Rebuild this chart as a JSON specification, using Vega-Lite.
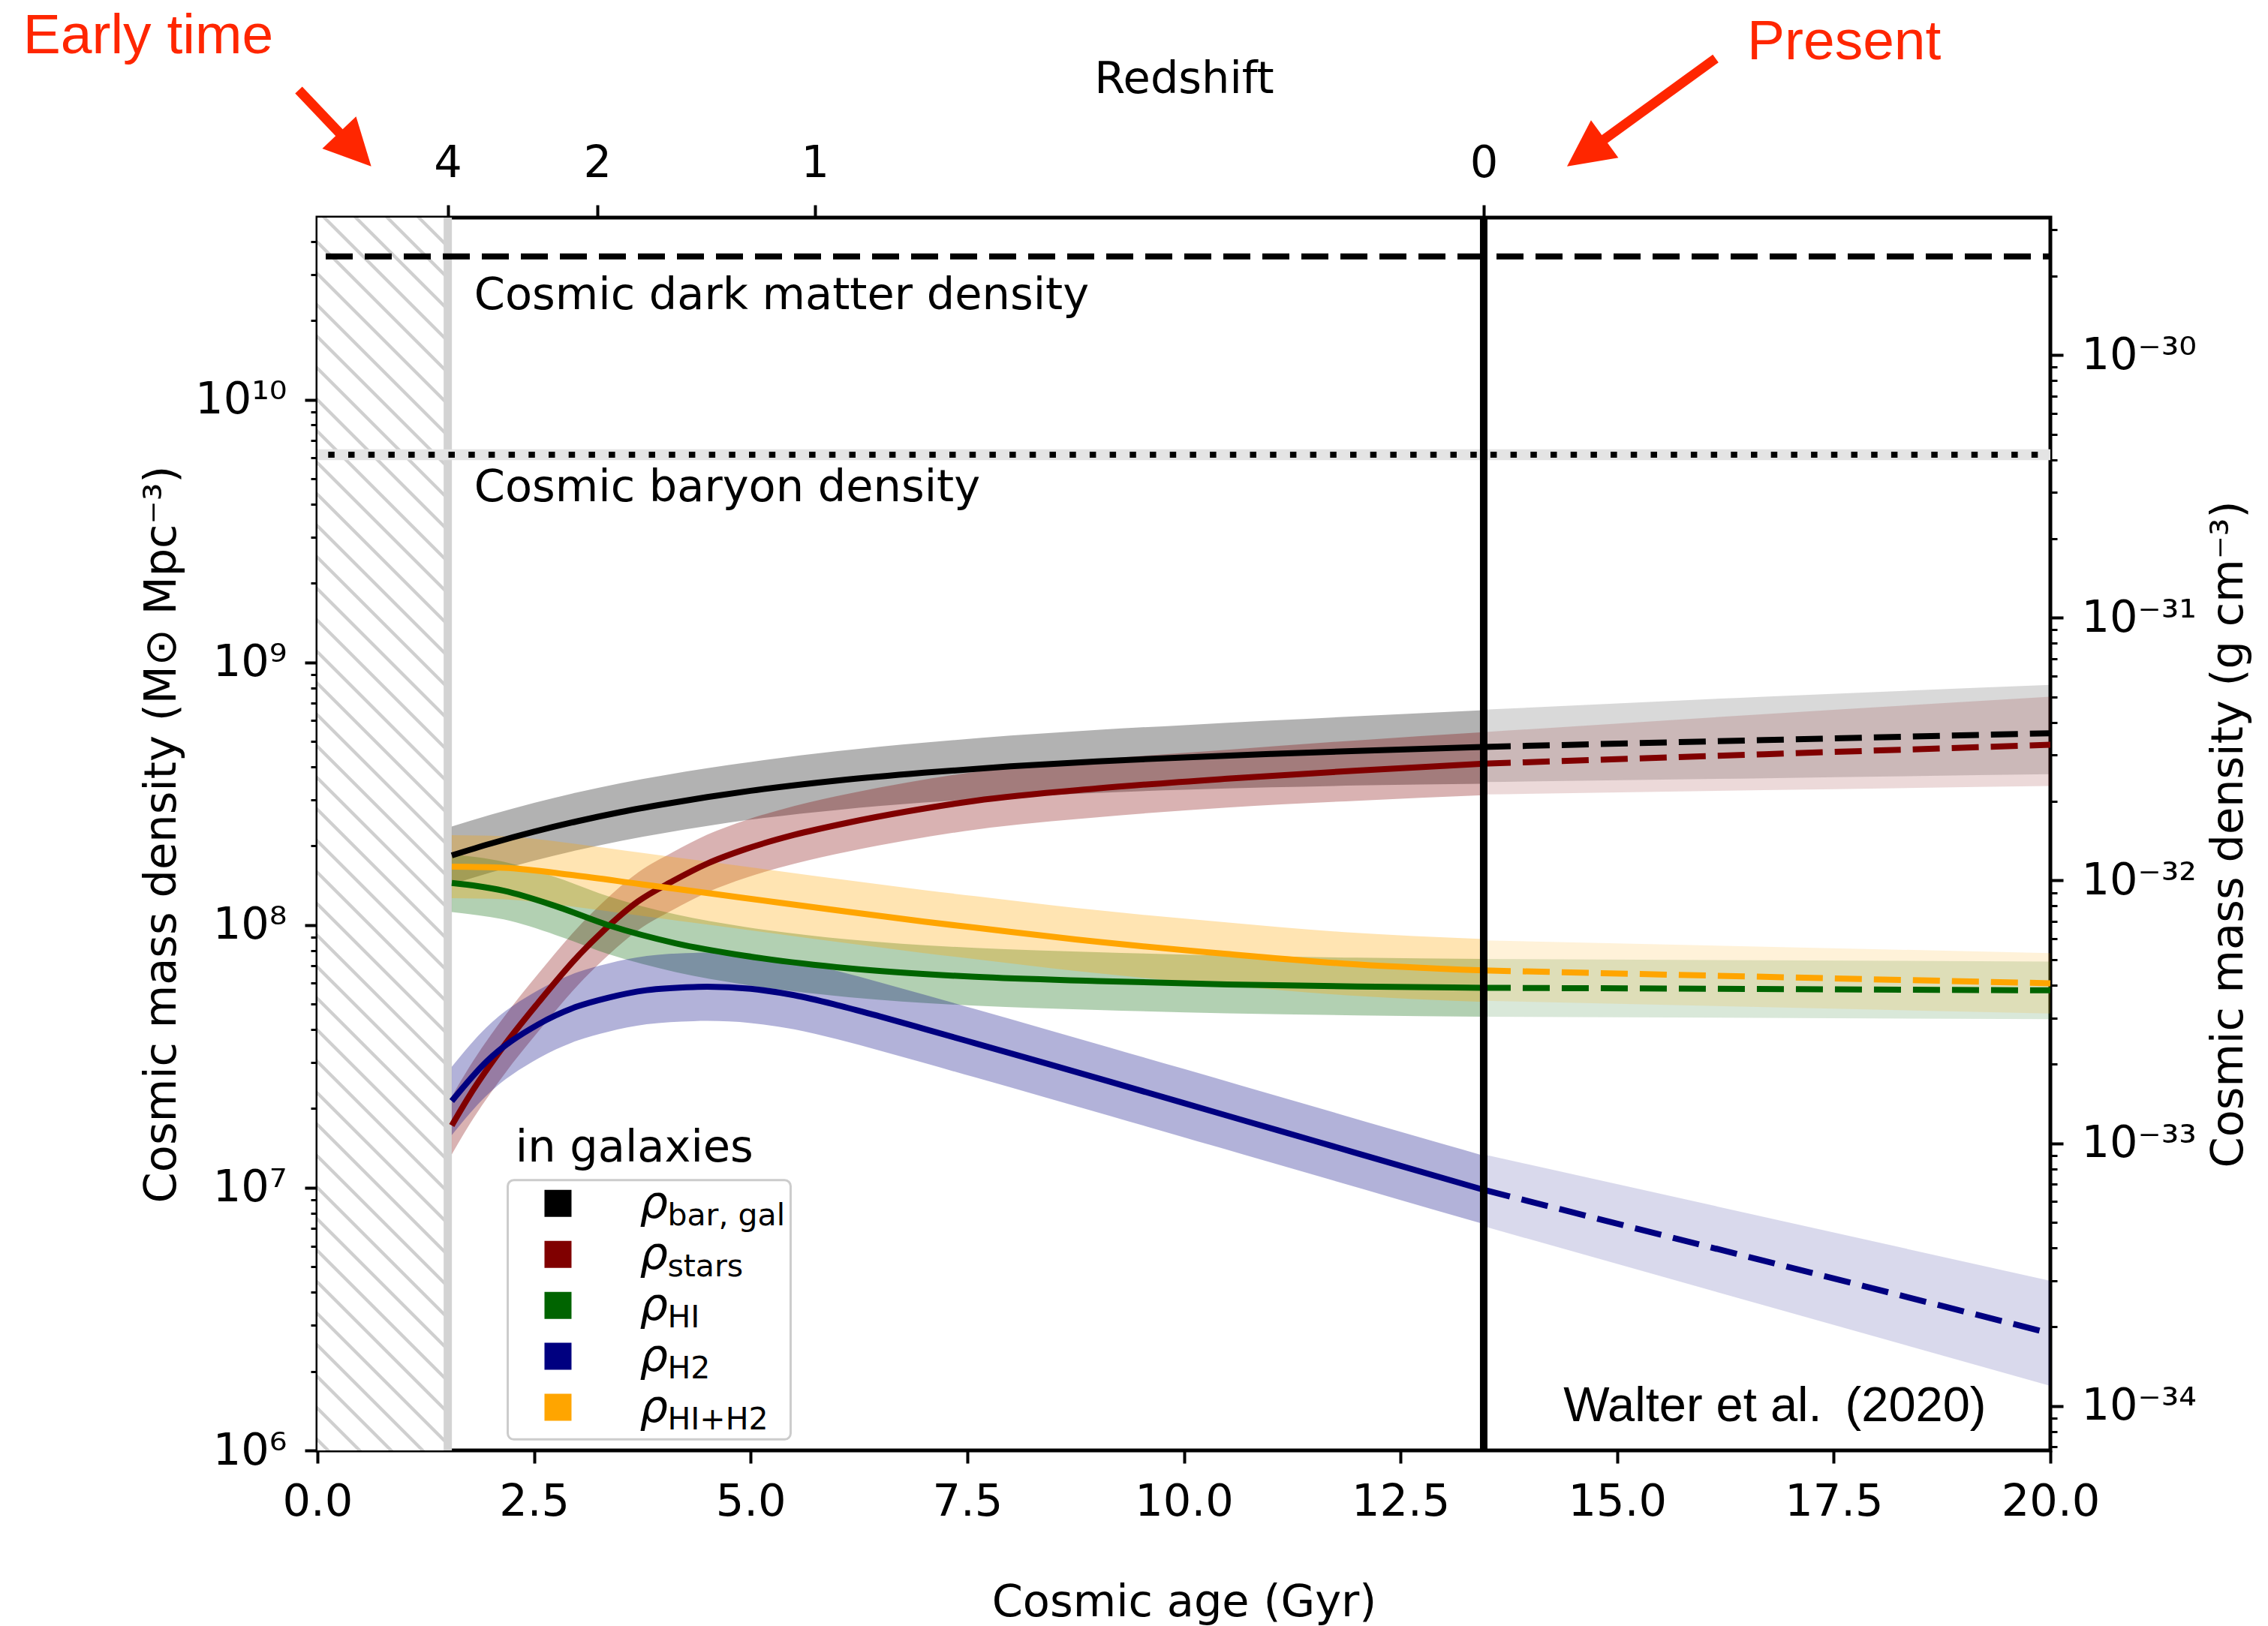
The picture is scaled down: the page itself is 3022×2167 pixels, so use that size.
{
  "$schema": "https://vega.github.io/schema/vega-lite/v6.json",
  "width": 2309,
  "height": 1643,
  "autosize": {"type": "none"},
  "padding": {"left": 423, "top": 290, "right": 290, "bottom": 234},
  "background": "white",
  "config": {
    "view": {"stroke": "black", "strokeWidth": 5},
    "font": "DejaVu Sans",
    "axis": {
      "grid": false,
      "domain": false,
      "labelFont": "DejaVu Sans",
      "labelFontSize": 59,
      "labelColor": "black",
      "titleFont": "DejaVu Sans",
      "titleFontSize": 59,
      "titleFontWeight": "normal",
      "titleColor": "black",
      "tickColor": "black",
      "tickWidth": 4,
      "tickSize": 17,
      "labelOverlap": false,
      "labelFlush": false,
      "labelBound": false
    }
  },
  "datasets": {
    "density": [
      {"series": "bar, gal", "phase": "fit", "t": 1.55, "rho": 1.841e8, "lo": 1.429e8, "hi": 2.371e8},
      {"series": "bar, gal", "phase": "fit", "t": 2.0, "rho": 2.042e8, "lo": 1.585e8, "hi": 2.630e8},
      {"series": "bar, gal", "phase": "fit", "t": 2.5, "rho": 2.265e8, "lo": 1.759e8, "hi": 2.917e8},
      {"series": "bar, gal", "phase": "fit", "t": 3.0, "rho": 2.483e8, "lo": 1.928e8, "hi": 3.198e8},
      {"series": "bar, gal", "phase": "fit", "t": 3.5, "rho": 2.692e8, "lo": 2.090e8, "hi": 3.467e8},
      {"series": "bar, gal", "phase": "fit", "t": 4.0, "rho": 2.884e8, "lo": 2.239e8, "hi": 3.715e8},
      {"series": "bar, gal", "phase": "fit", "t": 4.5, "rho": 3.069e8, "lo": 2.383e8, "hi": 3.953e8},
      {"series": "bar, gal", "phase": "fit", "t": 5.0, "rho": 3.243e8, "lo": 2.518e8, "hi": 4.177e8},
      {"series": "bar, gal", "phase": "fit", "t": 6.0, "rho": 3.548e8, "lo": 2.742e8, "hi": 4.591e8},
      {"series": "bar, gal", "phase": "fit", "t": 7.0, "rho": 3.802e8, "lo": 2.925e8, "hi": 4.943e8},
      {"series": "bar, gal", "phase": "fit", "t": 8.0, "rho": 4.018e8, "lo": 3.070e8, "hi": 5.260e8},
      {"series": "bar, gal", "phase": "fit", "t": 9.0, "rho": 4.198e8, "lo": 3.185e8, "hi": 5.533e8},
      {"series": "bar, gal", "phase": "fit", "t": 10.0, "rho": 4.345e8, "lo": 3.274e8, "hi": 5.766e8},
      {"series": "bar, gal", "phase": "fit", "t": 11.0, "rho": 4.477e8, "lo": 3.341e8, "hi": 5.999e8},
      {"series": "bar, gal", "phase": "fit", "t": 12.0, "rho": 4.603e8, "lo": 3.397e8, "hi": 6.237e8},
      {"series": "bar, gal", "phase": "fit", "t": 13.46, "rho": 4.764e8, "lo": 3.452e8, "hi": 6.574e8},
      {"series": "bar, gal", "phase": "extrapolation", "t": 13.46, "rho": 4.764e8, "lo": 3.5e8, "hi": 6.6e8},
      {"series": "bar, gal", "phase": "extrapolation", "t": 16.7, "rho": 5.058e8, "lo": 3.62e8, "hi": 7.4e8},
      {"series": "bar, gal", "phase": "extrapolation", "t": 20.0, "rho": 5.37e8, "lo": 3.75e8, "hi": 8.2e8},

      {"series": "stars", "phase": "fit", "t": 1.55, "rho": 1.726e7, "lo": 1.340e7, "hi": 2.223e7},
      {"series": "stars", "phase": "fit", "t": 1.75, "rho": 2.228e7, "lo": 1.730e7, "hi": 2.870e7},
      {"series": "stars", "phase": "fit", "t": 2.15, "rho": 3.459e7, "lo": 2.686e7, "hi": 4.455e7},
      {"series": "stars", "phase": "fit", "t": 2.55, "rho": 5.070e7, "lo": 3.936e7, "hi": 6.530e7},
      {"series": "stars", "phase": "fit", "t": 3.0, "rho": 7.568e7, "lo": 5.876e7, "hi": 9.748e7},
      {"series": "stars", "phase": "fit", "t": 3.3, "rho": 9.506e7, "lo": 7.380e7, "hi": 1.224e8},
      {"series": "stars", "phase": "fit", "t": 3.7, "rho": 1.230e8, "lo": 9.550e7, "hi": 1.584e8},
      {"series": "stars", "phase": "fit", "t": 4.1, "rho": 1.469e8, "lo": 1.140e8, "hi": 1.892e8},
      {"series": "stars", "phase": "fit", "t": 4.5, "rho": 1.714e8, "lo": 1.331e8, "hi": 2.208e8},
      {"series": "stars", "phase": "fit", "t": 4.94, "rho": 1.945e8, "lo": 1.510e8, "hi": 2.505e8},
      {"series": "stars", "phase": "fit", "t": 5.5, "rho": 2.203e8, "lo": 1.710e8, "hi": 2.837e8},
      {"series": "stars", "phase": "fit", "t": 6.13, "rho": 2.455e8, "lo": 1.906e8, "hi": 3.162e8},
      {"series": "stars", "phase": "fit", "t": 6.8, "rho": 2.704e8, "lo": 2.099e8, "hi": 3.483e8},
      {"series": "stars", "phase": "fit", "t": 7.59, "rho": 2.972e8, "lo": 2.307e8, "hi": 3.828e8},
      {"series": "stars", "phase": "fit", "t": 9.0, "rho": 3.311e8, "lo": 2.571e8, "hi": 4.265e8},
      {"series": "stars", "phase": "fit", "t": 10.5, "rho": 3.606e8, "lo": 2.800e8, "hi": 4.645e8},
      {"series": "stars", "phase": "fit", "t": 12.0, "rho": 3.873e8, "lo": 2.972e8, "hi": 5.047e8},
      {"series": "stars", "phase": "fit", "t": 13.46, "rho": 4.111e8, "lo": 3.119e8, "hi": 5.418e8},
      {"series": "stars", "phase": "extrapolation", "t": 13.46, "rho": 4.111e8, "lo": 3.14e8, "hi": 5.42e8},
      {"series": "stars", "phase": "extrapolation", "t": 16.7, "rho": 4.467e8, "lo": 3.26e8, "hi": 6.35e8},
      {"series": "stars", "phase": "extrapolation", "t": 20.0, "rho": 4.853e8, "lo": 3.38e8, "hi": 7.4e8},

      {"series": "HI", "phase": "fit", "t": 1.55, "rho": 1.445e8, "lo": 1.12e8, "hi": 1.86e8},
      {"series": "HI", "phase": "fit", "t": 1.85, "rho": 1.406e8, "lo": 1.09e8, "hi": 1.81e8},
      {"series": "HI", "phase": "fit", "t": 2.15, "rho": 1.35e8, "lo": 1.05e8, "hi": 1.74e8},
      {"series": "HI", "phase": "fit", "t": 2.75, "rho": 1.18e8, "lo": 9.16e7, "hi": 1.52e8},
      {"series": "HI", "phase": "fit", "t": 3.35, "rho": 1.0e8, "lo": 7.76e7, "hi": 1.288e8},
      {"series": "HI", "phase": "fit", "t": 4.14, "rho": 8.51e7, "lo": 6.61e7, "hi": 1.096e8},
      {"series": "HI", "phase": "fit", "t": 4.93, "rho": 7.64e7, "lo": 5.93e7, "hi": 9.84e7},
      {"series": "HI", "phase": "fit", "t": 6.13, "rho": 6.84e7, "lo": 5.31e7, "hi": 8.81e7},
      {"series": "HI", "phase": "fit", "t": 7.59, "rho": 6.35e7, "lo": 4.93e7, "hi": 8.18e7},
      {"series": "HI", "phase": "fit", "t": 9.0, "rho": 6.12e7, "lo": 4.75e7, "hi": 7.88e7},
      {"series": "HI", "phase": "fit", "t": 10.5, "rho": 5.94e7, "lo": 4.61e7, "hi": 7.65e7},
      {"series": "HI", "phase": "fit", "t": 12.0, "rho": 5.83e7, "lo": 4.53e7, "hi": 7.51e7},
      {"series": "HI", "phase": "fit", "t": 13.46, "rho": 5.77e7, "lo": 4.48e7, "hi": 7.43e7},
      {"series": "HI", "phase": "extrapolation", "t": 13.46, "rho": 5.77e7, "lo": 4.48e7, "hi": 7.43e7},
      {"series": "HI", "phase": "extrapolation", "t": 20.0, "rho": 5.64e7, "lo": 4.38e7, "hi": 7.26e7},

      {"series": "H2", "phase": "fit", "t": 1.55, "rho": 2.138e7, "lo": 1.585e7, "hi": 2.884e7},
      {"series": "H2", "phase": "fit", "t": 1.95, "rho": 3.020e7, "lo": 2.239e7, "hi": 4.074e7},
      {"series": "H2", "phase": "fit", "t": 2.55, "rho": 4.188e7, "lo": 3.105e7, "hi": 5.650e7},
      {"series": "H2", "phase": "fit", "t": 3.0, "rho": 4.898e7, "lo": 3.631e7, "hi": 6.607e7},
      {"series": "H2", "phase": "fit", "t": 3.35, "rho": 5.284e7, "lo": 3.917e7, "hi": 7.128e7},
      {"series": "H2", "phase": "fit", "t": 3.8, "rho": 5.649e7, "lo": 4.188e7, "hi": 7.621e7},
      {"series": "H2", "phase": "fit", "t": 4.34, "rho": 5.808e7, "lo": 4.305e7, "hi": 7.835e7},
      {"series": "H2", "phase": "fit", "t": 4.5, "rho": 5.821e7, "lo": 4.315e7, "hi": 7.853e7},
      {"series": "H2", "phase": "fit", "t": 5.0, "rho": 5.715e7, "lo": 4.236e7, "hi": 7.710e7},
      {"series": "H2", "phase": "fit", "t": 5.5, "rho": 5.408e7, "lo": 4.009e7, "hi": 7.295e7},
      {"series": "H2", "phase": "fit", "t": 6.0, "rho": 4.955e7, "lo": 3.673e7, "hi": 6.684e7},
      {"series": "H2", "phase": "fit", "t": 6.5, "rho": 4.477e7, "lo": 3.319e7, "hi": 6.039e7},
      {"series": "H2", "phase": "fit", "t": 7.0, "rho": 4.027e7, "lo": 2.985e7, "hi": 5.432e7},
      {"series": "H2", "phase": "fit", "t": 7.59, "rho": 3.548e7, "lo": 2.630e7, "hi": 4.786e7},
      {"series": "H2", "phase": "fit", "t": 8.4, "rho": 2.979e7, "lo": 2.208e7, "hi": 4.019e7},
      {"series": "H2", "phase": "fit", "t": 9.14, "rho": 2.535e7, "lo": 1.879e7, "hi": 3.420e7},
      {"series": "H2", "phase": "fit", "t": 10.0, "rho": 2.099e7, "lo": 1.556e7, "hi": 2.832e7},
      {"series": "H2", "phase": "fit", "t": 10.69, "rho": 1.803e7, "lo": 1.337e7, "hi": 2.432e7},
      {"series": "H2", "phase": "fit", "t": 11.5, "rho": 1.510e7, "lo": 1.119e7, "hi": 2.037e7},
      {"series": "H2", "phase": "fit", "t": 12.43, "rho": 1.230e7, "lo": 9.118e6, "hi": 1.659e7},
      {"series": "H2", "phase": "fit", "t": 13.46, "rho": 9.817e6, "lo": 7.277e6, "hi": 1.324e7},
      {"series": "H2", "phase": "extrapolation", "t": 13.46, "rho": 9.817e6, "lo": 7.13e6, "hi": 1.34e7},
      {"series": "H2", "phase": "extrapolation", "t": 20.0, "rho": 2.79e6, "lo": 1.76e6, "hi": 4.42e6},

      {"series": "HI+H2", "phase": "fit", "t": 1.55, "rho": 1.667e8, "lo": 1.265e8, "hi": 2.197e8},
      {"series": "HI+H2", "phase": "fit", "t": 2.15, "rho": 1.652e8, "lo": 1.253e8, "hi": 2.177e8},
      {"series": "HI+H2", "phase": "fit", "t": 2.95, "rho": 1.549e8, "lo": 1.175e8, "hi": 2.042e8},
      {"series": "HI+H2", "phase": "fit", "t": 3.74, "rho": 1.429e8, "lo": 1.084e8, "hi": 1.883e8},
      {"series": "HI+H2", "phase": "fit", "t": 4.54, "rho": 1.318e8, "lo": 1.000e8, "hi": 1.737e8},
      {"series": "HI+H2", "phase": "fit", "t": 5.33, "rho": 1.216e8, "lo": 9.226e7, "hi": 1.603e8},
      {"series": "HI+H2", "phase": "fit", "t": 6.13, "rho": 1.122e8, "lo": 8.513e7, "hi": 1.479e8},
      {"series": "HI+H2", "phase": "fit", "t": 7.0, "rho": 1.030e8, "lo": 7.815e7, "hi": 1.358e8},
      {"series": "HI+H2", "phase": "fit", "t": 7.59, "rho": 9.772e7, "lo": 7.414e7, "hi": 1.288e8},
      {"series": "HI+H2", "phase": "fit", "t": 8.75, "rho": 8.810e7, "lo": 6.684e7, "hi": 1.161e8},
      {"series": "HI+H2", "phase": "fit", "t": 10.49, "rho": 7.762e7, "lo": 5.889e7, "hi": 1.023e8},
      {"series": "HI+H2", "phase": "fit", "t": 11.85, "rho": 7.129e7, "lo": 5.409e7, "hi": 9.396e7},
      {"series": "HI+H2", "phase": "fit", "t": 13.46, "rho": 6.714e7, "lo": 5.094e7, "hi": 8.849e7},
      {"series": "HI+H2", "phase": "extrapolation", "t": 13.46, "rho": 6.714e7, "lo": 5.15e7, "hi": 8.74e7},
      {"series": "HI+H2", "phase": "extrapolation", "t": 20.0, "rho": 6.00e7, "lo": 4.60e7, "hi": 7.82e7}
    ],
    "cosmic": [
      {"component": "dark matter", "rho": 3.51e10},
      {"component": "baryons", "rho": 6.17e9, "lo": 5.88e9, "hi": 6.47e9}
    ],
    "epochs": [
      {"epoch": "z = 4", "t0": 0, "t": 1.504},
      {"epoch": "today", "t0": 0, "t": 13.46}
    ],
    "redshift": [
      {"z": 4, "t": 1.504},
      {"z": 2, "t": 3.228},
      {"z": 1, "t": 5.74},
      {"z": 0, "t": 13.46}
    ],
    "components": [
      {"series": "bar, gal"},
      {"series": "stars"},
      {"series": "HI"},
      {"series": "H2"},
      {"series": "HI+H2"}
    ]
  },
  "layer": [
    {
      "data": {"name": "epochs"},
      "transform": [{"filter": "datum.epoch === 'z = 4'"}],
      "mark": {
        "type": "rect",
        "strokeWidth": 0,
        "fill": {
          "gradient": "linear", "x1": 0, "y1": 1, "x2": 0.11623, "y2": -0.1,
          "stops": [
            {"offset": 0, "color": "#ffffff"},
            {"offset": 0.00566, "color": "#ffffff"}, {"offset": 0.00646, "color": "#cfcfcf"}, {"offset": 0.00906, "color": "#cfcfcf"}, {"offset": 0.00986, "color": "#ffffff"},
            {"offset": 0.02864, "color": "#ffffff"}, {"offset": 0.02944, "color": "#cfcfcf"}, {"offset": 0.03204, "color": "#cfcfcf"}, {"offset": 0.03284, "color": "#ffffff"},
            {"offset": 0.05162, "color": "#ffffff"}, {"offset": 0.05242, "color": "#cfcfcf"}, {"offset": 0.05502, "color": "#cfcfcf"}, {"offset": 0.05582, "color": "#ffffff"},
            {"offset": 0.07460, "color": "#ffffff"}, {"offset": 0.07540, "color": "#cfcfcf"}, {"offset": 0.07800, "color": "#cfcfcf"}, {"offset": 0.07880, "color": "#ffffff"},
            {"offset": 0.09759, "color": "#ffffff"}, {"offset": 0.09839, "color": "#cfcfcf"}, {"offset": 0.10099, "color": "#cfcfcf"}, {"offset": 0.10179, "color": "#ffffff"},
            {"offset": 0.12057, "color": "#ffffff"}, {"offset": 0.12137, "color": "#cfcfcf"}, {"offset": 0.12397, "color": "#cfcfcf"}, {"offset": 0.12477, "color": "#ffffff"},
            {"offset": 0.14355, "color": "#ffffff"}, {"offset": 0.14435, "color": "#cfcfcf"}, {"offset": 0.14695, "color": "#cfcfcf"}, {"offset": 0.14775, "color": "#ffffff"},
            {"offset": 0.16653, "color": "#ffffff"}, {"offset": 0.16733, "color": "#cfcfcf"}, {"offset": 0.16993, "color": "#cfcfcf"}, {"offset": 0.17073, "color": "#ffffff"},
            {"offset": 0.18951, "color": "#ffffff"}, {"offset": 0.19031, "color": "#cfcfcf"}, {"offset": 0.19291, "color": "#cfcfcf"}, {"offset": 0.19371, "color": "#ffffff"},
            {"offset": 0.21249, "color": "#ffffff"}, {"offset": 0.21329, "color": "#cfcfcf"}, {"offset": 0.21589, "color": "#cfcfcf"}, {"offset": 0.21669, "color": "#ffffff"},
            {"offset": 0.23548, "color": "#ffffff"}, {"offset": 0.23628, "color": "#cfcfcf"}, {"offset": 0.23888, "color": "#cfcfcf"}, {"offset": 0.23968, "color": "#ffffff"},
            {"offset": 0.25846, "color": "#ffffff"}, {"offset": 0.25926, "color": "#cfcfcf"}, {"offset": 0.26186, "color": "#cfcfcf"}, {"offset": 0.26266, "color": "#ffffff"},
            {"offset": 0.28144, "color": "#ffffff"}, {"offset": 0.28224, "color": "#cfcfcf"}, {"offset": 0.28484, "color": "#cfcfcf"}, {"offset": 0.28564, "color": "#ffffff"},
            {"offset": 0.30442, "color": "#ffffff"}, {"offset": 0.30522, "color": "#cfcfcf"}, {"offset": 0.30782, "color": "#cfcfcf"}, {"offset": 0.30862, "color": "#ffffff"},
            {"offset": 0.32740, "color": "#ffffff"}, {"offset": 0.32820, "color": "#cfcfcf"}, {"offset": 0.33080, "color": "#cfcfcf"}, {"offset": 0.33160, "color": "#ffffff"},
            {"offset": 0.35039, "color": "#ffffff"}, {"offset": 0.35119, "color": "#cfcfcf"}, {"offset": 0.35379, "color": "#cfcfcf"}, {"offset": 0.35459, "color": "#ffffff"},
            {"offset": 0.37337, "color": "#ffffff"}, {"offset": 0.37417, "color": "#cfcfcf"}, {"offset": 0.37677, "color": "#cfcfcf"}, {"offset": 0.37757, "color": "#ffffff"},
            {"offset": 0.39635, "color": "#ffffff"}, {"offset": 0.39715, "color": "#cfcfcf"}, {"offset": 0.39975, "color": "#cfcfcf"}, {"offset": 0.40055, "color": "#ffffff"},
            {"offset": 0.41933, "color": "#ffffff"}, {"offset": 0.42013, "color": "#cfcfcf"}, {"offset": 0.42273, "color": "#cfcfcf"}, {"offset": 0.42353, "color": "#ffffff"},
            {"offset": 0.44231, "color": "#ffffff"}, {"offset": 0.44311, "color": "#cfcfcf"}, {"offset": 0.44571, "color": "#cfcfcf"}, {"offset": 0.44651, "color": "#ffffff"},
            {"offset": 0.46530, "color": "#ffffff"}, {"offset": 0.46610, "color": "#cfcfcf"}, {"offset": 0.46870, "color": "#cfcfcf"}, {"offset": 0.46950, "color": "#ffffff"},
            {"offset": 0.48828, "color": "#ffffff"}, {"offset": 0.48908, "color": "#cfcfcf"}, {"offset": 0.49168, "color": "#cfcfcf"}, {"offset": 0.49248, "color": "#ffffff"},
            {"offset": 0.51126, "color": "#ffffff"}, {"offset": 0.51206, "color": "#cfcfcf"}, {"offset": 0.51466, "color": "#cfcfcf"}, {"offset": 0.51546, "color": "#ffffff"},
            {"offset": 0.53424, "color": "#ffffff"}, {"offset": 0.53504, "color": "#cfcfcf"}, {"offset": 0.53764, "color": "#cfcfcf"}, {"offset": 0.53844, "color": "#ffffff"},
            {"offset": 0.55722, "color": "#ffffff"}, {"offset": 0.55802, "color": "#cfcfcf"}, {"offset": 0.56062, "color": "#cfcfcf"}, {"offset": 0.56142, "color": "#ffffff"},
            {"offset": 0.58021, "color": "#ffffff"}, {"offset": 0.58101, "color": "#cfcfcf"}, {"offset": 0.58361, "color": "#cfcfcf"}, {"offset": 0.58441, "color": "#ffffff"},
            {"offset": 0.60319, "color": "#ffffff"}, {"offset": 0.60399, "color": "#cfcfcf"}, {"offset": 0.60659, "color": "#cfcfcf"}, {"offset": 0.60739, "color": "#ffffff"},
            {"offset": 0.62617, "color": "#ffffff"}, {"offset": 0.62697, "color": "#cfcfcf"}, {"offset": 0.62957, "color": "#cfcfcf"}, {"offset": 0.63037, "color": "#ffffff"},
            {"offset": 0.64915, "color": "#ffffff"}, {"offset": 0.64995, "color": "#cfcfcf"}, {"offset": 0.65255, "color": "#cfcfcf"}, {"offset": 0.65335, "color": "#ffffff"},
            {"offset": 0.67213, "color": "#ffffff"}, {"offset": 0.67293, "color": "#cfcfcf"}, {"offset": 0.67553, "color": "#cfcfcf"}, {"offset": 0.67633, "color": "#ffffff"},
            {"offset": 0.69512, "color": "#ffffff"}, {"offset": 0.69592, "color": "#cfcfcf"}, {"offset": 0.69852, "color": "#cfcfcf"}, {"offset": 0.69932, "color": "#ffffff"},
            {"offset": 0.71810, "color": "#ffffff"}, {"offset": 0.71890, "color": "#cfcfcf"}, {"offset": 0.72150, "color": "#cfcfcf"}, {"offset": 0.72230, "color": "#ffffff"},
            {"offset": 0.74108, "color": "#ffffff"}, {"offset": 0.74188, "color": "#cfcfcf"}, {"offset": 0.74448, "color": "#cfcfcf"}, {"offset": 0.74528, "color": "#ffffff"},
            {"offset": 0.76406, "color": "#ffffff"}, {"offset": 0.76486, "color": "#cfcfcf"}, {"offset": 0.76746, "color": "#cfcfcf"}, {"offset": 0.76826, "color": "#ffffff"},
            {"offset": 0.78704, "color": "#ffffff"}, {"offset": 0.78784, "color": "#cfcfcf"}, {"offset": 0.79044, "color": "#cfcfcf"}, {"offset": 0.79124, "color": "#ffffff"},
            {"offset": 0.81003, "color": "#ffffff"}, {"offset": 0.81083, "color": "#cfcfcf"}, {"offset": 0.81343, "color": "#cfcfcf"}, {"offset": 0.81423, "color": "#ffffff"},
            {"offset": 0.83301, "color": "#ffffff"}, {"offset": 0.83381, "color": "#cfcfcf"}, {"offset": 0.83641, "color": "#cfcfcf"}, {"offset": 0.83721, "color": "#ffffff"},
            {"offset": 0.85599, "color": "#ffffff"}, {"offset": 0.85679, "color": "#cfcfcf"}, {"offset": 0.85939, "color": "#cfcfcf"}, {"offset": 0.86019, "color": "#ffffff"},
            {"offset": 0.87897, "color": "#ffffff"}, {"offset": 0.87977, "color": "#cfcfcf"}, {"offset": 0.88237, "color": "#cfcfcf"}, {"offset": 0.88317, "color": "#ffffff"},
            {"offset": 0.90195, "color": "#ffffff"}, {"offset": 0.90275, "color": "#cfcfcf"}, {"offset": 0.90535, "color": "#cfcfcf"}, {"offset": 0.90615, "color": "#ffffff"},
            {"offset": 0.92494, "color": "#ffffff"}, {"offset": 0.92574, "color": "#cfcfcf"}, {"offset": 0.92834, "color": "#cfcfcf"}, {"offset": 0.92914, "color": "#ffffff"},
            {"offset": 0.94792, "color": "#ffffff"}, {"offset": 0.94872, "color": "#cfcfcf"}, {"offset": 0.95132, "color": "#cfcfcf"}, {"offset": 0.95212, "color": "#ffffff"},
            {"offset": 0.97090, "color": "#ffffff"}, {"offset": 0.97170, "color": "#cfcfcf"}, {"offset": 0.97430, "color": "#cfcfcf"}, {"offset": 0.97510, "color": "#ffffff"},
            {"offset": 1, "color": "#ffffff"}
          ]
        }
      },
      "encoding": {
        "x": {"field": "t0", "type": "quantitative", "scale": {"domain": [0, 20], "nice": false, "zero": false}, "axis": null},
        "x2": {"field": "t"}
      }
    },
    {
      "data": {"name": "epochs"},
      "transform": [{"filter": "datum.epoch === 'z = 4'"}],
      "mark": {"type": "rule", "color": "#d3d3d3", "strokeWidth": 11},
      "encoding": {
        "x": {"field": "t", "type": "quantitative", "scale": {"domain": [0, 20], "nice": false, "zero": false}, "axis": null}
      }
    },
    {
      "data": {"name": "cosmic"},
      "transform": [{"filter": "datum.component === 'baryons'"}],
      "mark": {"type": "rect", "color": "#e4e4e4"},
      "encoding": {
        "y": {
          "field": "lo", "type": "quantitative",
          "scale": {"type": "log", "domain": [1e6, 4.93e10], "nice": false},
          "axis": {
            "orient": "left",
            "values": [2e6, 3e6, 4e6, 5e6, 6e6, 7e6, 8e6, 9e6, 2e7, 3e7, 4e7, 5e7, 6e7, 7e7, 8e7, 9e7, 2e8, 3e8, 4e8, 5e8, 6e8, 7e8, 8e8, 9e8, 2e9, 3e9, 4e9, 5e9, 6e9, 7e9, 8e9, 9e9, 2e10, 3e10, 4e10],
            "labels": false,
            "tickSize": 9,
            "tickWidth": 3,
            "title": null
          }
        },
        "y2": {"field": "hi"}
      }
    },
    {
      "data": {"name": "cosmic"},
      "transform": [{"filter": "datum.component === 'dark matter'"}],
      "mark": {"type": "rule", "color": "black", "strokeWidth": 8, "strokeDash": [36, 16], "strokeDashOffset": 26},
      "encoding": {
        "y": {"field": "rho", "type": "quantitative", "scale": {"type": "log", "domain": [1e6, 4.93e10], "nice": false}, "axis": null}
      }
    },
    {
      "data": {"name": "cosmic"},
      "transform": [{"filter": "datum.component === 'baryons'"}],
      "mark": {"type": "rule", "color": "black", "strokeWidth": 8, "strokeDash": [8.5, 18.2], "strokeDashOffset": 10},
      "encoding": {
        "y": {"field": "rho", "type": "quantitative", "scale": {"type": "log", "domain": [1e6, 4.93e10], "nice": false}, "axis": null}
      }
    },
    {
      "data": {"name": "density"},
      "transform": [{"filter": "datum.phase === 'fit'"}],
      "mark": {"type": "area", "opacity": 0.3, "interpolate": "monotone"},
      "encoding": {
        "x": {
          "field": "t", "type": "quantitative",
          "scale": {"domain": [0, 20], "nice": false, "zero": false},
          "axis": {
            "orient": "bottom",
            "values": [0, 2.5, 5, 7.5, 10, 12.5, 15, 17.5, 20],
            "format": ".1f",
            "title": "Cosmic age (Gyr)",
            "labelPadding": 22,
            "titlePadding": 75
          }
        },
        "y": {
          "field": "lo", "type": "quantitative", "stack": null,
          "scale": {"type": "log", "domain": [1e6, 4.93e10], "nice": false},
          "axis": {
            "orient": "left",
            "values": [1e6, 1e7, 1e8, 1e9, 1e10],
            "labelExpr": "datum.value < 5e6 ? '10⁶' : datum.value < 5e7 ? '10⁷' : datum.value < 5e8 ? '10⁸' : datum.value < 5e9 ? '10⁹' : '10¹⁰'",
            "labelPadding": 24,
            "title": "Cosmic mass density (M⊙ Mpc⁻³)",
            "titlePadding": 14
          }
        },
        "y2": {"field": "hi"},
        "color": {
          "field": "series", "type": "nominal",
          "scale": {"domain": ["bar, gal", "stars", "HI", "H2", "HI+H2"], "range": ["#000000", "#800000", "#006400", "#000080", "#ffa500"]},
          "legend": null
        }
      }
    },
    {
      "data": {"name": "density"},
      "transform": [{"filter": "datum.phase === 'extrapolation'"}],
      "mark": {"type": "area", "opacity": 0.15, "interpolate": "monotone"},
      "encoding": {
        "x": {"field": "t", "type": "quantitative", "scale": {"domain": [0, 20], "nice": false, "zero": false}, "axis": null},
        "y": {"field": "lo", "type": "quantitative", "stack": null, "scale": {"type": "log", "domain": [1e6, 4.93e10], "nice": false}, "axis": null},
        "y2": {"field": "hi"},
        "color": {"field": "series", "type": "nominal", "scale": {"domain": ["bar, gal", "stars", "HI", "H2", "HI+H2"], "range": ["#000000", "#800000", "#006400", "#000080", "#ffa500"]}, "legend": null}
      }
    },
    {
      "data": {"name": "density"},
      "transform": [{"filter": "datum.phase === 'fit'"}],
      "mark": {"type": "line", "strokeWidth": 8, "interpolate": "monotone"},
      "encoding": {
        "x": {"field": "t", "type": "quantitative", "scale": {"domain": [0, 20], "nice": false, "zero": false}, "axis": null},
        "y": {"field": "rho", "type": "quantitative", "scale": {"type": "log", "domain": [1e6, 4.93e10], "nice": false}, "axis": null},
        "color": {"field": "series", "type": "nominal", "scale": {"domain": ["bar, gal", "stars", "HI", "H2", "HI+H2"], "range": ["#000000", "#800000", "#006400", "#000080", "#ffa500"]}, "legend": null}
      }
    },
    {
      "data": {"name": "density"},
      "transform": [{"filter": "datum.phase === 'extrapolation'"}],
      "mark": {"type": "line", "strokeWidth": 8, "strokeDash": [36, 16], "interpolate": "monotone"},
      "encoding": {
        "x": {"field": "t", "type": "quantitative", "scale": {"domain": [0, 20], "nice": false, "zero": false}, "axis": null},
        "y": {"field": "rho", "type": "quantitative", "scale": {"type": "log", "domain": [1e6, 4.93e10], "nice": false}, "axis": null},
        "color": {"field": "series", "type": "nominal", "scale": {"domain": ["bar, gal", "stars", "HI", "H2", "HI+H2"], "range": ["#000000", "#800000", "#006400", "#000080", "#ffa500"]}, "legend": null}
      }
    },
    {
      "data": {"name": "epochs"},
      "transform": [{"filter": "datum.epoch === 'today'"}],
      "mark": {"type": "rule", "color": "black", "strokeWidth": 10},
      "encoding": {
        "x": {"field": "t", "type": "quantitative", "scale": {"domain": [0, 20], "nice": false, "zero": false}, "axis": null}
      }
    },
    {
      "data": {"name": "redshift"},
      "mark": {"type": "rule", "opacity": 0},
      "encoding": {
        "x": {
          "field": "t", "type": "quantitative",
          "scale": {"domain": [0, 20], "nice": false, "zero": false},
          "axis": {
            "orient": "top",
            "values": [1.504, 3.228, 5.74, 13.46],
            "labelExpr": "datum.value < 2 ? '4' : datum.value < 4 ? '2' : datum.value < 7 ? '1' : '0'",
            "title": "Redshift",
            "labelPadding": 26,
            "titlePadding": 53
          }
        },
        "y": {
          "datum": 1e-32, "type": "quantitative",
          "scale": {"type": "log", "domain": [6.77e-35, 3.338e-30], "nice": false},
          "axis": {
            "orient": "right",
            "values": [1e-34, 1e-33, 1e-32, 1e-31, 1e-30],
            "labelExpr": "datum.value < 5e-34 ? '10⁻³⁴' : datum.value < 5e-33 ? '10⁻³³' : datum.value < 5e-32 ? '10⁻³²' : datum.value < 5e-31 ? '10⁻³¹' : '10⁻³⁰'",
            "labelPadding": 24,
            "title": "Cosmic mass density (g cm⁻³)",
            "titleAngle": 270,
            "titleBaseline": "top",
            "titlePadding": 14
          }
        }
      }
    },
    {
      "data": {"name": "redshift"},
      "mark": {"type": "rule", "opacity": 0},
      "encoding": {
        "x": {"field": "t", "type": "quantitative", "scale": {"domain": [0, 20], "nice": false, "zero": false}, "axis": null},
        "y": {
          "datum": 1e-32, "type": "quantitative",
          "scale": {"type": "log", "domain": [6.77e-35, 3.338e-30], "nice": false},
          "axis": {
            "orient": "right",
            "values": [7e-35, 8e-35, 9e-35, 2e-34, 3e-34, 4e-34, 5e-34, 6e-34, 7e-34, 8e-34, 9e-34, 2e-33, 3e-33, 4e-33, 5e-33, 6e-33, 7e-33, 8e-33, 9e-33, 2e-32, 3e-32, 4e-32, 5e-32, 6e-32, 7e-32, 8e-32, 9e-32, 2e-31, 3e-31, 4e-31, 5e-31, 6e-31, 7e-31, 8e-31, 9e-31, 2e-30, 3e-30],
            "labels": false,
            "tickSize": 9,
            "tickWidth": 3,
            "title": null
          }
        }
      }
    },
    {
      "data": {"values": [{}]},
      "mark": {"type": "text", "text": "Cosmic dark matter density", "font": "DejaVu Sans", "fontSize": 59, "align": "left", "baseline": "alphabetic", "color": "black"},
      "encoding": {
        "x": {"datum": 1.808, "type": "quantitative", "scale": {"domain": [0, 20], "nice": false, "zero": false}, "axis": null},
        "y": {"datum": 2.214e10, "type": "quantitative", "scale": {"type": "log", "domain": [1e6, 4.93e10], "nice": false}, "axis": null}
      }
    },
    {
      "data": {"values": [{}]},
      "mark": {"type": "text", "text": "Cosmic baryon density", "font": "DejaVu Sans", "fontSize": 59, "align": "left", "baseline": "alphabetic", "color": "black"},
      "encoding": {
        "x": {"datum": 1.808, "type": "quantitative", "scale": {"domain": [0, 20], "nice": false, "zero": false}, "axis": null},
        "y": {"datum": 4.11e9, "type": "quantitative", "scale": {"type": "log", "domain": [1e6, 4.93e10], "nice": false}, "axis": null}
      }
    },
    {
      "data": {"values": [{}]},
      "mark": {"type": "text", "text": "Walter et al. \u2009(2020)", "font": "Liberation Sans", "fontSize": 65, "align": "left", "baseline": "alphabetic", "color": "black"},
      "encoding": {
        "x": {"datum": 14.38, "type": "quantitative", "scale": {"domain": [0, 20], "nice": false, "zero": false}, "axis": null},
        "y": {"datum": 1.292e6, "type": "quantitative", "scale": {"type": "log", "domain": [1e6, 4.93e10], "nice": false}, "axis": null}
      }
    },
    {
      "data": {"values": [{}]},
      "mark": {"type": "rect", "fill": "white", "stroke": "#cccccc", "strokeWidth": 3, "cornerRadius": 8},
      "encoding": {
        "x": {"datum": 2.196, "type": "quantitative", "scale": {"domain": [0, 20], "nice": false, "zero": false}, "axis": null},
        "x2": {"datum": 5.461},
        "y": {"datum": 1.069e7, "type": "quantitative", "scale": {"type": "log", "domain": [1e6, 4.93e10], "nice": false}, "axis": null},
        "y2": {"datum": 1.101e6}
      }
    },
    {
      "data": {"values": [{}]},
      "mark": {"type": "text", "text": "in galaxies", "font": "DejaVu Sans", "fontSize": 59, "align": "left", "baseline": "alphabetic", "color": "black"},
      "encoding": {
        "x": {"datum": 2.285, "type": "quantitative", "scale": {"domain": [0, 20], "nice": false, "zero": false}, "axis": null},
        "y": {"datum": 1.256e7, "type": "quantitative", "scale": {"type": "log", "domain": [1e6, 4.93e10], "nice": false}, "axis": null}
      }
    },
    {
      "data": {"name": "components"},
      "mark": {"type": "point", "shape": "square", "filled": true, "size": 1296, "opacity": 1, "strokeWidth": 0},
      "encoding": {
        "x": {"datum": 2.776, "type": "quantitative", "scale": {"domain": [0, 20], "nice": false, "zero": false}, "axis": null},
        "y": {"field": "series", "type": "nominal", "scale": {"type": "point", "domain": ["bar, gal", "stars", "HI", "H2", "HI+H2"], "range": [1313.8, 1585.5], "padding": 0}, "axis": null},
        "color": {"field": "series", "type": "nominal", "scale": {"domain": ["bar, gal", "stars", "HI", "H2", "HI+H2"], "range": ["#000000", "#800000", "#006400", "#000080", "#ffa500"]}, "legend": null}
      }
    },
    {
      "data": {"name": "components"},
      "mark": {"type": "text", "text": "ρ", "font": "DejaVu Sans", "fontStyle": "italic", "fontSize": 59, "align": "left", "baseline": "alphabetic", "dy": 19, "color": "black"},
      "encoding": {
        "x": {"datum": 3.72, "type": "quantitative", "scale": {"domain": [0, 20], "nice": false, "zero": false}, "axis": null},
        "y": {"field": "series", "type": "nominal", "scale": {"type": "point", "domain": ["bar, gal", "stars", "HI", "H2", "HI+H2"], "range": [1313.8, 1585.5], "padding": 0}, "axis": null}
      }
    },
    {
      "data": {"name": "components"},
      "mark": {"type": "text", "font": "DejaVu Sans", "fontSize": 41, "align": "left", "baseline": "alphabetic", "dy": 29.5, "color": "black"},
      "encoding": {
        "x": {"datum": 4.04, "type": "quantitative", "scale": {"domain": [0, 20], "nice": false, "zero": false}, "axis": null},
        "y": {"field": "series", "type": "nominal", "scale": {"type": "point", "domain": ["bar, gal", "stars", "HI", "H2", "HI+H2"], "range": [1313.8, 1585.5], "padding": 0}, "axis": null},
        "text": {"field": "series", "type": "nominal"}
      }
    },
    {
      "data": {"values": [{}]},
      "mark": {"type": "text", "text": "Early time", "font": "Liberation Sans", "fontSize": 75, "align": "left", "baseline": "alphabetic", "color": "#ff2600"},
      "encoding": {
        "x": {"datum": -3.398, "type": "quantitative", "scale": {"domain": [0, 20], "nice": false, "zero": false}, "axis": null},
        "y": {"datum": 2.075e11, "type": "quantitative", "scale": {"type": "log", "domain": [1e6, 4.93e10], "nice": false}, "axis": null}
      }
    },
    {
      "data": {"values": [{}]},
      "mark": {"type": "text", "text": "Present", "font": "Liberation Sans", "fontSize": 75, "align": "left", "baseline": "alphabetic", "color": "#ff2600"},
      "encoding": {
        "x": {"datum": 16.50, "type": "quantitative", "scale": {"domain": [0, 20], "nice": false, "zero": false}, "axis": null},
        "y": {"datum": 1.977e11, "type": "quantitative", "scale": {"type": "log", "domain": [1e6, 4.93e10], "nice": false}, "axis": null}
      }
    },
    {
      "data": {"values": [{}]},
      "mark": {"type": "rule", "color": "#ff2600", "strokeWidth": 13},
      "encoding": {
        "x": {"datum": -0.2165, "type": "quantitative", "scale": {"domain": [0, 20], "nice": false, "zero": false}, "axis": null},
        "x2": {"datum": 0.4357},
        "y": {"datum": 1.508e11, "type": "quantitative", "scale": {"type": "log", "domain": [1e6, 4.93e10], "nice": false}, "axis": null},
        "y2": {"datum": 8.96e10}
      }
    },
    {
      "data": {"values": [{}]},
      "mark": {"type": "point", "shape": "M 1 0 L -1 -1 L -1 1 Z", "filled": true, "color": "#ff2600", "size": 3844, "angle": 46.5, "opacity": 1, "strokeWidth": 0},
      "encoding": {
        "x": {"datum": 0.4357, "type": "quantitative", "scale": {"domain": [0, 20], "nice": false, "zero": false}, "axis": null},
        "y": {"datum": 8.96e10, "type": "quantitative", "scale": {"type": "log", "domain": [1e6, 4.93e10], "nice": false}, "axis": null}
      }
    },
    {
      "data": {"values": [{}]},
      "mark": {"type": "rule", "color": "#ff2600", "strokeWidth": 13},
      "encoding": {
        "x": {"datum": 16.137, "type": "quantitative", "scale": {"domain": [0, 20], "nice": false, "zero": false}, "axis": null},
        "x2": {"datum": 14.639},
        "y": {"datum": 1.988e11, "type": "quantitative", "scale": {"type": "log", "domain": [1e6, 4.93e10], "nice": false}, "axis": null},
        "y2": {"datum": 8.71e10}
      }
    },
    {
      "data": {"values": [{}]},
      "mark": {"type": "point", "shape": "M 1 0 L -1 -1 L -1 1 Z", "filled": true, "color": "#ff2600", "size": 3844, "angle": 144, "opacity": 1, "strokeWidth": 0},
      "encoding": {
        "x": {"datum": 14.639, "type": "quantitative", "scale": {"domain": [0, 20], "nice": false, "zero": false}, "axis": null},
        "y": {"datum": 8.71e10, "type": "quantitative", "scale": {"type": "log", "domain": [1e6, 4.93e10], "nice": false}, "axis": null}
      }
    }
  ],
  "resolve": {
    "scale": {"x": "independent", "y": "independent"},
    "axis": {"x": "independent", "y": "independent"}
  }
}
